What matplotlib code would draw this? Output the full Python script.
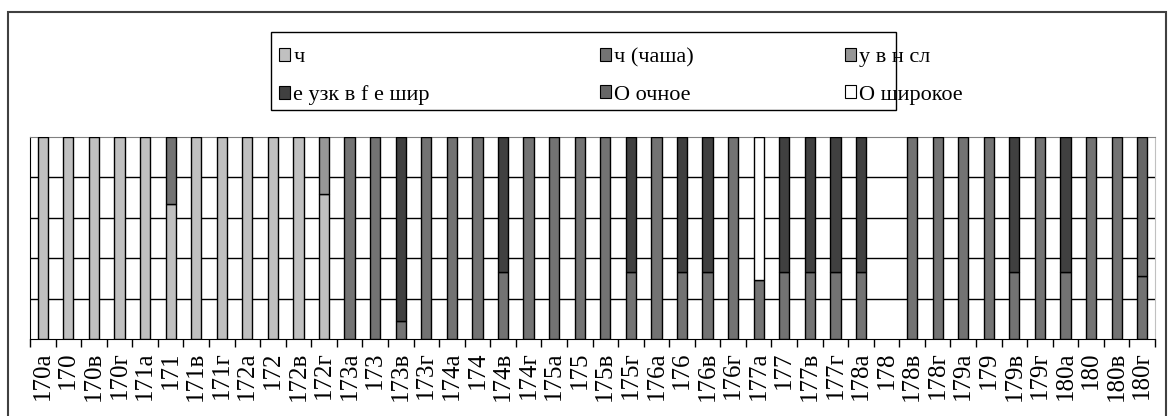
import numpy as np
import matplotlib
matplotlib.use("Agg")
import matplotlib.pyplot as plt
from matplotlib.patches import Rectangle, Patch

plt.rcParams["font.family"] = ["Liberation Serif", "DejaVu Serif"]
SERIF = ["Liberation Serif", "DejaVu Serif"]

categories = [
    "170а", "170", "170в", "170г", "171а", "171", "171в", "171г",
    "172а", "172", "172в", "172г", "173а", "173", "173в", "173г",
    "174а", "174", "174в", "174г", "175а", "175", "175в", "175г",
    "176а", "176", "176в", "176г", "177а", "177", "177в", "177г",
    "178а", "178", "178в", "178г", "179а", "179", "179в", "179г",
    "180а", "180", "180в", "180г",
]

# shares per category, stacked bottom to top in this order
ch = [1, 1, 1, 1, 1, 0.67, 1, 1, 1, 1, 1, 0.72,
      0, 0, 0, 0, 0, 0, 0, 0, 0, 0, 0, 0,
      0, 0, 0, 0, 0, 0, 0, 0, 0, 0, 0, 0,
      0, 0, 0, 0, 0, 0, 0, 0]
ch_chasha = [0, 0, 0, 0, 0, 0.33, 0, 0, 0, 0, 0, 0,
             1, 1, 0.09, 1, 1, 1, 0.33, 1, 1, 1, 1, 0.33,
             1, 0.33, 0.33, 1, 0.29, 0.33, 0.33, 0.33, 0.33, 0, 1, 1,
             1, 1, 0.33, 1, 0.33, 1, 1, 0.31]
u_v_n_sl = [0, 0, 0, 0, 0, 0, 0, 0, 0, 0, 0, 0.28,
            0, 0, 0, 0, 0, 0, 0, 0, 0, 0, 0, 0,
            0, 0, 0, 0, 0, 0, 0, 0, 0, 0, 0, 0,
            0, 0, 0, 0, 0, 0, 0, 0]
e_uzk = [0, 0, 0, 0, 0, 0, 0, 0, 0, 0, 0, 0,
         0, 0, 0.91, 0, 0, 0, 0.67, 0, 0, 0, 0, 0.67,
         0, 0.67, 0.67, 0, 0, 0.67, 0.67, 0.67, 0.67, 0, 0, 0,
         0, 0, 0.67, 0, 0.67, 0, 0, 0]
o_ochnoe = [0] * 43 + [0.69]
o_shirokoe = [0] * 28 + [0.71] + [0] * 15

series_names = ["ч", "ч (чаша)", "у в н сл", "е узк в f е шир", "О очное", "О широкое"]
series_values = [ch, ch_chasha, u_v_n_sl, e_uzk, o_ochnoe, o_shirokoe]
series_colors = ["#c0c0c0", "#737373", "#969696", "#404040", "#666666", "#ffffff"]

fig = plt.figure(figsize=(11.73, 4.16), dpi=100)
ax = fig.add_axes([30 / 1173, 77 / 416, 1125 / 1173, 202 / 416])

x = np.arange(len(categories))
bottom = np.zeros(len(categories))
for name, vals, col in zip(series_names, series_values, series_colors):
    vals = np.array(vals, dtype=float)
    keep = vals > 0
    ax.bar(x[keep], vals[keep], width=0.4, bottom=bottom[keep], color=col,
           edgecolor="black", linewidth=1.0, label=name, zorder=3)
    bottom += vals

ax.set_xlim(-0.5, len(categories) - 0.5)
ax.set_ylim(0, 1)
ax.set_yticks([0.2, 0.4, 0.6, 0.8])
ax.yaxis.grid(True, color="black", linewidth=1.0, zorder=0)
ax.tick_params(axis="y", length=0, labelleft=False)

ax.set_xticks(x)
ax.set_xticklabels(categories, rotation=90, fontsize=18, family=SERIF)
ax.set_xticks(np.arange(-0.5, len(categories)), minor=True)
ax.tick_params(axis="x", which="major", length=0, pad=9)
ax.tick_params(axis="x", which="minor", length=6, width=1, color="black")

ax.spines["left"].set_color("black")
ax.spines["bottom"].set_color("black")
ax.spines["top"].set_color("#808080")
ax.spines["right"].set_color("#c0c0c0")

# outer chart frame
fig.patches.append(Rectangle((8 / 1173, -0.05), 1158 / 1173, (404 / 416) + 0.05,
                             transform=fig.transFigure, fill=False,
                             edgecolor="#404040", linewidth=1.5))

# legend box with three columns
fig.patches.append(Rectangle((271 / 1173, (416 - 110) / 416), 625 / 1173, 78 / 416,
                             transform=fig.transFigure, fill=False,
                             edgecolor="black", linewidth=1.0))
col_x = [279, 600, 845]
for c in range(3):
    handles = [Patch(facecolor=series_colors[i], edgecolor="black", linewidth=0.8)
               for i in (c, c + 3)]
    labels = [series_names[c], series_names[c + 3]]
    fig.legend(handles, labels, loc="upper left",
               bbox_to_anchor=(col_x[c] / 1173, (416 - 48) / 416),
               frameon=False, prop={"family": SERIF, "size": 16},
               handlelength=0.5, handleheight=0.5,
               handletextpad=0.15, labelspacing=0.82, borderpad=0, borderaxespad=0)

fig.savefig("out.png", dpi=100)
